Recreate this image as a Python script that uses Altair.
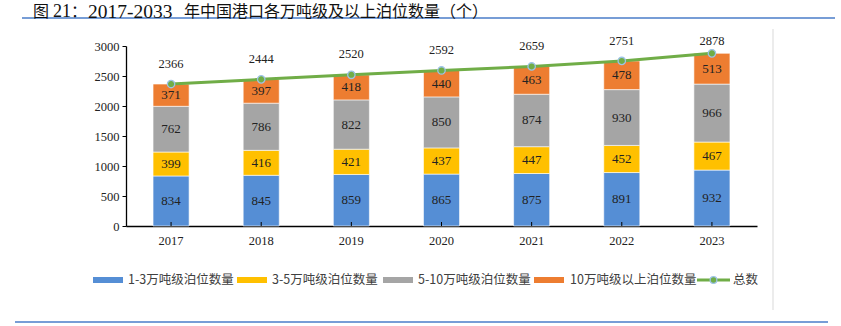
import altair as alt
import pandas as pd

# ---------------- data ----------------
years = ["2017", "2018", "2019", "2020", "2021", "2022", "2023"]
series_names = ["1-3万吨级泊位数量", "3-5万吨级泊位数量", "5-10万吨级泊位数量", "10万吨级以上泊位数量"]
s_1_3 = [834, 845, 859, 865, 875, 891, 932]
s_3_5 = [399, 416, 421, 437, 447, 452, 467]
s_5_10 = [762, 786, 822, 850, 874, 930, 966]
s_10p = [371, 397, 418, 440, 463, 478, 513]
totals = [2366, 2444, 2520, 2592, 2659, 2751, 2878]
total_name = "总数"
y_ticks = [0, 500, 1000, 1500, 2000, 2500, 3000]
title_parts = ["图", "21", "：", "2017-2033", "年中国港口各万吨级及以上泊位数量（个）"]

# ---------------- styles ----------------
colors = ["#558ED5", "#FFC000", "#A5A5A5", "#ED7D31"]
green = "#70AD47"
marker_edge = "#9DC3E6"
rule_blue = "#4A7CC9"
serif = "Liberation Serif"
sans = "Noto Sans CJK SC"
txt = "#222222"

W, H = 631, 180
PAD = {"left": 126, "top": 46, "right": 84, "bottom": 100}

rows = []
for si, (name, vals) in enumerate(zip(series_names, [s_1_3, s_3_5, s_5_10, s_10p])):
    for y, v in zip(years, vals):
        rows.append({"year": y, "series": name, "value": v, "order": si})
bars_df = pd.DataFrame(rows)
tot_df = pd.DataFrame({"year": years, "total": totals})

x_scale = alt.Scale(paddingInner=0.6, paddingOuter=0.3)
x_axis = alt.Axis(
    title=None, labelAngle=0, labelFont=serif, labelFontSize=12.5, labelColor=txt,
    labelPadding=8, ticks=False, domainColor="#000000", domainWidth=1.3,
)
y_scale = alt.Scale(domain=[0, 3000], nice=False, zero=True)
y_axis = alt.Axis(
    title=None, values=y_ticks, format="d", grid=False, labelFont=serif, labelFontSize=12.5,
    labelColor=txt, tickSize=4, tickColor="#000000", labelPadding=3, labelOverlap=False,
    domainColor="#000000", domainWidth=1.3, tickWidth=1,
)


def xo():
    return alt.X("year:N", sort=years, scale=x_scale, axis=x_axis)


def yo(field, **kw):
    return alt.Y(field, scale=y_scale, axis=y_axis, **kw)


bars = alt.Chart(bars_df).mark_bar(stroke="white", strokeWidth=0.6).encode(
    x=xo(),
    y=yo("value:Q", stack="zero"),
    color=alt.Color("series:N", scale=alt.Scale(domain=series_names, range=colors), legend=None),
    order=alt.Order("order:Q", sort="ascending"),
)

seg_labels = (
    alt.Chart(bars_df)
    .transform_stack(stack="value", groupby=["year"], as_=["v0", "v1"],
                     sort=[alt.SortField("order", order="ascending")])
    .transform_calculate(mid="(datum.v0 + datum.v1) / 2")
    .mark_text(font=serif, fontSize=13, color=txt, baseline="middle")
    .encode(x=xo(), y=yo("mid:Q"), text=alt.Text("value:Q"))
)

x_ticks = alt.Chart(tot_df).mark_rule(color="#000000", strokeWidth=1).encode(
    x=xo(), y=alt.value(H - 4), y2=alt.value(H)
)

line = alt.Chart(tot_df).mark_line(color=green, strokeWidth=3).encode(x=xo(), y=yo("total:Q"))
points = alt.Chart(tot_df).mark_point(
    filled=True, size=55, shape="circle", fill=green, stroke=marker_edge, strokeWidth=1.3, opacity=1
).encode(x=xo(), y=yo("total:Q"))

tot_labels = (
    alt.Chart(tot_df)
    .transform_calculate(ly="min(datum.total + 340, 3085)")
    .mark_text(font=serif, fontSize=12.5, color=txt, baseline="middle")
    .encode(x=xo(), y=yo("ly:Q"), text=alt.Text("total:Q"))
)

# ---------------- decorations (pixel positions relative to plot origin) ----------------
one = pd.DataFrame({"k": [0]})
deco = []
deco.append(alt.Chart(one).mark_rule(color=rule_blue, strokeWidth=1.3).encode(
    x=alt.value(-104), x2=alt.value(709), y=alt.value(-28)))
deco.append(alt.Chart(one).mark_rule(color=rule_blue, strokeWidth=1.5).encode(
    x=alt.value(-111), x2=alt.value(702), y=alt.value(276)))
deco.append(alt.Chart(one).mark_rule(color="#D9D9D9", strokeWidth=1).encode(
    x=alt.value(647), y=alt.value(-17), y2=alt.value(264)))

# title pieces
title_x = [-93, -73, -55, -38, 58]
title_font = [sans, serif, sans, serif, sans]
title_size = [16, 18, 16, 19.5, 16]
for t, tx, tf, ts in zip(title_parts, title_x, title_font, title_size):
    deco.append(
        alt.Chart(pd.DataFrame({"t": [t]})).mark_text(
            align="left", baseline="middle", font=tf, fontSize=ts, color="#111111"
        ).encode(x=alt.value(tx), y=alt.value(-34.5), text="t:N")
    )

# legend
leg_sw_x = [-33, 111, 257, 408]
leg_tx_x = [2, 146, 292, 444]
leg_y = 234
for name, c, sx, tx in zip(series_names, colors, leg_sw_x, leg_tx_x):
    deco.append(alt.Chart(one).mark_rect(color=c).encode(
        x=alt.value(sx), x2=alt.value(sx + 30), y=alt.value(leg_y - 3), y2=alt.value(leg_y + 3)))
    deco.append(alt.Chart(pd.DataFrame({"t": [name]})).mark_text(
        align="left", baseline="middle", font=sans, fontSize=12.5, color="#404040"
    ).encode(x=alt.value(tx), y=alt.value(leg_y), text="t:N"))
deco.append(alt.Chart(one).mark_rule(color=green, strokeWidth=3).encode(
    x=alt.value(571), x2=alt.value(604), y=alt.value(leg_y)))
deco.append(alt.Chart(one).mark_point(filled=True, size=45, shape="circle", fill=green,
                                      stroke=marker_edge, strokeWidth=1.3, opacity=1).encode(
    x=alt.value(587.5), y=alt.value(leg_y)))
deco.append(alt.Chart(pd.DataFrame({"t": [total_name]})).mark_text(
    align="left", baseline="middle", font=sans, fontSize=12.5, color="#404040"
).encode(x=alt.value(607), y=alt.value(leg_y), text="t:N"))

chart = alt.layer(bars, x_ticks, seg_labels, line, points, tot_labels, *deco).properties(
    width=W, height=H,
    autosize=alt.AutoSizeParams(type="none"),
    padding=PAD,
    background="white",
).configure_view(stroke=None)

chart.save("out.html", embed_options={"renderer": "svg", "actions": False})
